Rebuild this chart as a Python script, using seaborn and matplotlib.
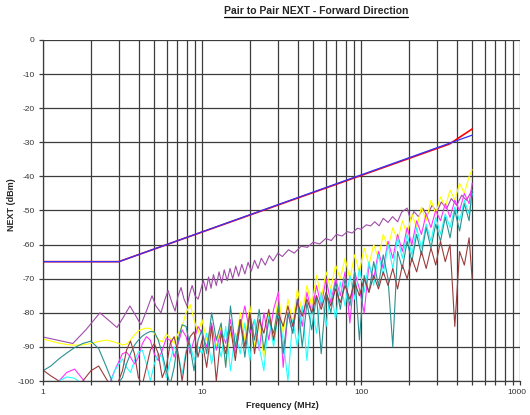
import numpy as np
import pandas as pd
import matplotlib
matplotlib.use("Agg")
import matplotlib.pyplot as plt
from matplotlib.lines import Line2D
from matplotlib.ticker import FixedLocator, NullFormatter
from matplotlib.transforms import ScaledTranslation
import seaborn as sns

# ---- data ----
LIMIT_F = [1, 3, 500]
LIMIT_BLUE = [-65, -65, -27.9]
LIMIT_RED_F = [1, 3, 360, 500]
LIMIT_RED = [-65, -65, -30.5, -26.1]

FREQ_LO = [1.0, 1.12, 1.26, 1.41, 1.58, 1.78, 2.0, 2.24, 2.51, 2.82,
           3.16, 3.35, 3.55, 3.76, 3.98, 4.22, 4.47, 4.73, 5.01, 5.31,
           5.62, 5.96, 6.31, 6.68, 7.08, 7.5, 7.94, 8.41, 8.91, 9.44]
FREQ_HI = [10, 10.7, 11.5, 12.3, 13.2, 14.1, 15.1, 16.2, 17.4, 18.6,
           20.0, 21.4, 22.9, 24.5, 26.3, 28.2, 30.2, 32.4, 34.7, 37.2,
           39.8, 42.7, 45.7, 49.0, 52.5, 56.2, 60.3, 64.6, 69.2, 74.1,
           79.4, 85.1, 91.2, 97.7, 104.7, 112.2, 120.2, 128.8, 138.0, 147.9,
           158.5, 169.8, 182.0, 195.0, 208.9, 223.9, 239.9, 257.0, 275.4, 295.1,
           316.2, 338.8, 363.1, 389.0, 416.9, 446.7, 478.6, 500]

yellow_lo = [-87.7, -88.3, -88.9, -89.3, -89.5, -89.4, -89.0, -88.4, -88.0, -88.6,
             -89.4, -89.2, -88.0, -86.5, -85.3, -84.8, -84.5, -84.6, -86.0, -87.8,
             -88.6, -86.2, -87.5, -89.0, -86.0, -84.0, -80.0, -77.5, -82.0, -86.0]
yellow_hi = [-82, -88, -84, -90, -84, -95, -86, -90, -80, -88,
             -78, -90, -83, -93, -80, -88, -74, -86, -76, -83,
             -73, -80, -72, -78, -69, -76, -68, -73, -66, -70,
             -64, -70, -63, -68, -61, -66, -60, -64, -57, -61,
             -55, -59, -53, -57, -51, -55, -49, -53, -47, -51,
             -46, -49, -44, -47, -42, -45, -40, -38]

magenta_lo = [-103, -102, -100, -97.5, -96.5, -99.5, -103, -104, -103, -97,
              -92, -91.5, -93, -95, -93, -89, -87, -88, -92, -94,
              -91, -87.5, -88, -93, -89, -85, -87, -92, -88, -84]
magenta_hi = [-86, -90, -83, -91, -85, -89, -82, -92, -84, -78,
              -86, -82, -91, -80, -88, -79, -74, -96, -80, -86,
              -76, -84, -74, -80, -72, -78, -70, -77, -70, -75,
              -68, -83, -68, -73, -80, -66, -70, -62, -67, -59,
              -64, -57, -62, -55, -60, -53, -57, -51, -55, -50,
              -53, -48, -52, -47, -50, -45, -48, -42]

cyan_lo = [-104, -102, -100, -98.8, -99.2, -101, -104, -105, -104, -97,
           -93.5, -96, -97.5, -94, -91.5, -91, -95, -100, -95, -92,
           -93, -99, -94, -90, -92, -98, -91, -89, -94, -90]
cyan_hi = [-92, -86, -95, -87, -93, -84, -97, -86, -92, -83,
           -94, -82, -90, -97, -81, -90, -80, -88, -100, -82,
           -90, -78, -94, -78, -86, -74, -84, -73, -82, -71,
           -78, -69, -76, -67, -74, -65, -72, -63, -69, -60,
           -67, -58, -64, -57, -63, -55, -61, -54, -59, -52,
           -57, -51, -55, -49, -53, -47, -51, -45]

teal_lo = [-97, -95.6, -93.5, -91.8, -90.2, -89, -88.3, -90.5, -96, -102,
           -99, -95, -92, -89.5, -88, -86.8, -86, -85.5, -85.6, -88,
           -92, -97, -101, -96, -88, -83.5, -84, -90, -97, -88]
teal_hi = [-85, -92, -80, -88, -83, -96, -78, -90, -82, -93,
           -80, -88, -79, -91, -82, -86, -78, -92, -80, -86,
           -76, -90, -77, -85, -75, -92, -74, -80, -71, -79,
           -70, -78, -68, -88, -69, -74, -65, -72, -63, -70,
           -90, -62, -67, -59, -65, -57, -63, -55, -61, -54,
           -59, -52, -58, -50, -56, -48, -53, -44]

darkred_lo = [-96.8, -98.5, -100, -102, -103, -100, -97, -95.6, -99.5, -103,
              -97, -91, -88.3, -92, -99, -101, -96, -91, -89, -92,
              -99, -96, -89, -87, -92, -100, -92, -87, -85.6, -93]
darkred_hi = [-88, -96, -84, -100, -86, -92, -84, -94, -82, -90,
              -80, -92, -82, -86, -79, -88, -80, -84, -78, -84,
              -77, -81, -76, -80, -75, -79, -74, -78, -73, -77,
              -72, -76, -71, -75, -70, -74, -69, -73, -68, -72,
              -67, -73, -66, -70, -64, -68, -62, -67, -61, -66,
              -59, -65, -60, -84, -62, -66, -58, -70]

PURPLE_F = [1.0, 1.54, 1.86, 2.28, 2.56, 2.92, 3.23, 3.52, 3.79, 4.13,
            4.51, 4.85, 5.13, 5.52, 5.85, 6.12, 6.47, 6.77, 7.07, 7.38,
            7.71, 8.05, 8.41, 8.67, 9.05, 9.45, 10.2, 10.6, 11.0, 11.4,
            11.8, 12.3, 12.8, 13.3, 13.8, 14.4, 15.0, 15.6, 16.3, 17.0,
            17.8, 18.6, 19.5, 20.4, 21.4, 22.5, 23.6, 25, 26.5, 28,
            30, 32, 35, 38, 42, 46, 50, 55, 60, 65,
            70, 76, 82, 88, 95, 100, 108, 115, 122, 130,
            138, 148, 158, 170, 180, 195, 205, 215, 230, 245,
            260, 280, 300, 320, 345, 370, 400, 430, 460, 500]
PURPLE_DB = [-87.1, -89, -85, -80, -82, -84.3, -81, -78, -80.5, -83.5,
             -79, -75, -78, -80, -76, -73.5, -77, -79.5, -75, -72.6,
             -76, -78, -74, -72, -75, -76, -70.5, -73.5, -69.5, -72.8,
             -68.8, -72.0, -68.0, -71.3, -67.4, -70.6, -67.0, -70.0, -66.3, -69.3,
             -65.8, -68.6, -65.2, -67.8, -64.6, -67.0, -64.0, -66, -63.2, -64.8,
             -62.5, -63.5, -61.5, -62.5, -60.5, -60.8, -59.3, -59.8, -58.2, -58.8,
             -57, -57.5, -56.2, -56.6, -55.2, -55.5, -54.2, -54.5, -53.3, -54.5,
             -52.3, -53.5, -51.8, -53.3, -50.5, -49.3, -52.8, -50.3, -51.8, -49.3,
             -51.5, -48.5, -50.5, -47.5, -49.5, -46.5, -48.5, -45.5, -47, -44]

X_TICKS = [1, 10, 100, 1000]
X_TICK_LABELS = ["1", "10", "100", "1000"]
Y_TICKS = list(range(-100, 1, 10))

sns.set_style("white")
plt.rcParams["font.family"] = ["Liberation Sans", "DejaVu Sans"]

fig = plt.figure(figsize=(5.3, 4.15), dpi=100)
ax = fig.add_axes([43 / 530, 1 - 381 / 415, 477 / 530, 341 / 415])

freq_all = FREQ_LO + FREQ_HI
traces = [
    ("purple", PURPLE_F, PURPLE_DB, "#a04ca8", 0.8),
    ("yellow", freq_all, yellow_lo + yellow_hi, "#ffff00", 0.8),
    ("magenta", freq_all, magenta_lo + magenta_hi, "#ff33ff", 0.8),
    ("cyan", freq_all, cyan_lo + cyan_hi, "#22ffff", 0.8),
    ("teal", freq_all, teal_lo + teal_hi, "#2a9090", 0.8),
    ("darkred", freq_all, darkred_lo + darkred_hi, "#9a3c3c", 0.8),
]
for name, f, v, c, lw in traces:
    df = pd.DataFrame({"f": f, "db": v})
    sns.lineplot(data=df, x="f", y="db", color=c, lw=lw, ax=ax,
                 sort=False, estimator=None)

red = pd.DataFrame({"f": LIMIT_RED_F, "db": LIMIT_RED})
blue = pd.DataFrame({"f": LIMIT_F, "db": LIMIT_BLUE})
sns.lineplot(data=red, x="f", y="db", color="#ff0000", lw=1.2, ax=ax, sort=False)
sns.lineplot(data=blue, x="f", y="db", color="#3333ff", lw=0.9, ax=ax, sort=False)

ax.set_xscale("log")
ax.set_xlim(1, 1000)
ax.set_ylim(-100, 0)
minor = [m * 10 ** e for e in range(0, 3) for m in range(2, 10)]
ax.xaxis.set_major_locator(FixedLocator(X_TICKS))
ax.xaxis.set_minor_locator(FixedLocator(minor))
ax.xaxis.set_minor_formatter(NullFormatter())
ax.set_xticks(X_TICKS)
ax.set_xticklabels(X_TICK_LABELS)
ax.set_yticks(Y_TICKS)
ax.set_yticklabels([str(t) for t in Y_TICKS])

ax.grid(True, which="both", axis="x", color="#3c3c3c", lw=0.9)
ax.grid(True, which="major", axis="y", color="#3c3c3c", lw=0.9)
ax.set_axisbelow(True)
for s in ["top", "right"]:
    ax.spines[s].set_visible(False)
for s in ["left", "bottom"]:
    ax.spines[s].set_color("#3c3c3c")
    ax.spines[s].set_linewidth(0.9)
ax.tick_params(axis="both", which="both", direction="out", length=3,
               width=0.9, color="#3c3c3c", labelsize=6, labelcolor="#333333",
               left=True, bottom=True, pad=3)

# keep "1000" inside the canvas
last = ax.get_xticklabels()[-1]
last.set_transform(last.get_transform() + ScaledTranslation(-3 / 100, 0, fig.dpi_scale_trans))

ax.set_xlabel("Frequency (MHz)", fontsize=6.5, fontweight="bold")
ax.set_ylabel("NEXT (dBm)", fontsize=6.5, fontweight="bold")
ax.xaxis.set_label_coords(0.501, -0.072)
ax.yaxis.set_label_coords(-0.066, 0.516)
ax.xaxis.label.set_va("center")
ax.yaxis.label.set_va("center")

title = fig.text(316 / 530, 1 - 11.5 / 415, "Pair to Pair NEXT - Forward Direction",
                 ha="center", va="center", fontsize=7.5, fontweight="bold")
fig.canvas.draw()
bb = title.get_window_extent(fig.canvas.get_renderer())
y_line = (bb.y0 - 0.5) / fig.bbox.height
fig.add_artist(Line2D([bb.x0 / fig.bbox.width, bb.x1 / fig.bbox.width],
                      [y_line, y_line], color="black", lw=0.9))

fig.savefig("out.png", dpi=100)
